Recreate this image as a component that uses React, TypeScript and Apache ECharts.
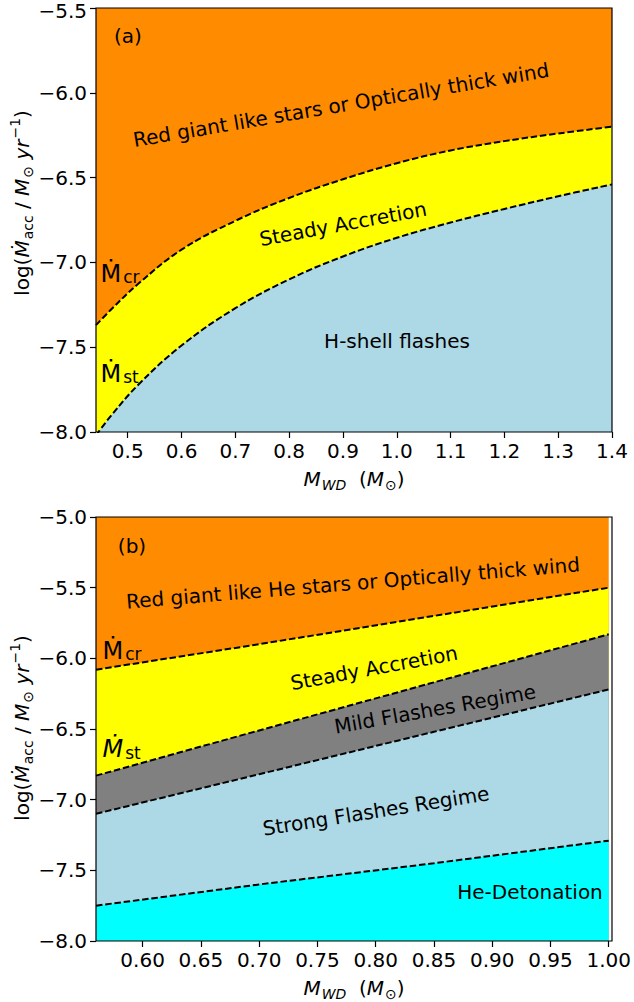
import React, { useEffect, useRef } from 'react';
import * as echarts from 'echarts';

// ---------- Panel (a) data ----------
const aMass = [0.441, 0.47, 0.52, 0.6, 0.7, 0.8, 0.9, 1.0, 1.1, 1.2, 1.3, 1.4];
const aMcr = [-7.37, -7.275, -7.125, -6.925, -6.755, -6.62, -6.51, -6.415, -6.34, -6.285, -6.24, -6.2];
const aMst = [-8.02, -7.9, -7.72, -7.49, -7.27, -7.1, -6.965, -6.855, -6.765, -6.685, -6.61, -6.54];
const aXTicks = [0.5, 0.6, 0.7, 0.8, 0.9, 1.0, 1.1, 1.2, 1.3, 1.4];

// ---------- Panel (b) data ----------
const bMass = [0.56, 0.7, 0.85, 1.0];
const bMcr = [-6.08, -5.9, -5.7, -5.5];
const bMst = [-6.83, -6.51, -6.17, -5.83];
const bMfl = [-7.1, -6.82, -6.52, -6.22];
const bMdet = [-7.75, -7.6, -7.45, -7.29];
const bXTicks = [0.6, 0.65, 0.7, 0.75, 0.8, 0.85, 0.9, 0.95, 1.0];

const FONT = 'DejaVu Sans';
const ORANGE = '#FF8C00';
const YELLOW = '#FFFF00';
const LBLUE = '#ADD8E6';
const GRAY = '#808080';
const CYAN = '#00FFFF';

const pairs = (xs: number[], ys: number[]) => xs.map((x, i) => [x, ys[i]]);

const G = [
  { left: 96, top: 8, width: 516, height: 424 },
  { left: 96, top: 517, width: 516, height: 424 },
];

const richBase = {
  n: { fontSize: 20, fontFamily: FONT, color: '#000', verticalAlign: 'top', padding: [4, 0, 0, 0] },
  i: { fontSize: 20, fontFamily: FONT, fontStyle: 'italic', color: '#000', verticalAlign: 'top', padding: [4, 0, 0, 0] },
  sb: { fontSize: 14, fontFamily: FONT, color: '#000', verticalAlign: 'top', padding: [13, 0, 0, 1] },
  sbi: { fontSize: 14, fontFamily: FONT, fontStyle: 'italic', color: '#000', verticalAlign: 'top', padding: [13, 0, 0, 1] },
  sp: { fontSize: 14, fontFamily: FONT, color: '#000', verticalAlign: 'top', padding: [0, 0, 0, 1] },
};

const richM = {
  m: { fontSize: 24, fontFamily: FONT, color: '#000', verticalAlign: 'bottom' },
  mi: { fontSize: 24, fontFamily: FONT, fontStyle: 'italic', color: '#000', verticalAlign: 'bottom' },
  s: { fontSize: 17, fontFamily: FONT, color: '#000', verticalAlign: 'bottom', padding: [0, 0, 0, 2] },
};

function label(x: number, y: number, text: string, deg = 0) {
  return {
    type: 'text',
    x,
    y,
    rotation: (deg * Math.PI) / 180,
    z: 50,
    style: { text, fontSize: 20, fontFamily: FONT, fill: '#000', align: 'center', verticalAlign: 'middle' },
  };
}

function mdot(x: number, y: number, text: string) {
  return {
    type: 'text',
    x,
    y,
    z: 50,
    style: { text, rich: richM, align: 'left', verticalAlign: 'bottom' },
  };
}

function frame(g: { left: number; top: number; width: number; height: number }) {
  return {
    type: 'rect',
    z: 100,
    shape: { x: g.left, y: g.top, width: g.width, height: g.height },
    style: { fill: 'none', stroke: '#000', lineWidth: 1.2 },
  };
}

const yTitle = '{n|log(}{i|Ṁ}{sb|acc}{n| / }{i|M}{sb|⊙}{n| }{i|yr}{sp|−1}{n|)}';
const xTitle = '{i|M}{sbi|WD}{n|  (}{i|M}{sb|⊙}{n|)}';

function xAxisDef(gi: number, min: number, max: number, ticks: number[], dec: number) {
  return {
    type: 'value',
    gridIndex: gi,
    min,
    max,
    axisLine: { show: false, onZero: false },
    axisTick: { show: true, length: 6, lineStyle: { color: '#000', width: 1.2 }, customValues: ticks },
    axisLabel: {
      customValues: ticks,
      formatter: (v: number) => v.toFixed(dec),
      fontSize: 20,
      fontFamily: FONT,
      color: '#000',
      margin: 9,
    },
    splitLine: { show: false },
  };
}

function yAxisDef(gi: number, min: number, max: number, nudgeTop: boolean) {
  return {
    type: 'value',
    gridIndex: gi,
    min,
    max,
    interval: 0.5,
    axisLine: { show: false, onZero: false },
    axisTick: { show: true, length: 6, lineStyle: { color: '#000', width: 1.2 } },
    axisLabel: {
      formatter: (v: number) => {
        const s = (v < 0 ? '−' : '') + Math.abs(v).toFixed(1);
        return nudgeTop && Math.abs(v - max) < 1e-9 ? '{t|' + s + '}' : s;
      },
      fontSize: 20,
      fontFamily: FONT,
      color: '#000',
      margin: 9,
      rich: {
        t: { fontSize: 20, fontFamily: FONT, color: '#000', padding: [5, 0, 0, 0] },
      },
    },
    splitLine: { show: false },
  };
}

function area(ai: number, xs: number[], ys: number[], color: string, z: number, smooth: boolean) {
  return {
    type: 'line',
    xAxisIndex: ai,
    yAxisIndex: ai,
    data: pairs(xs, ys),
    smooth: smooth ? 0.4 : false,
    symbol: 'none',
    silent: true,
    lineStyle: { opacity: 0, width: 0 },
    areaStyle: { color, opacity: 1, origin: 'start' },
    z,
  };
}

function dashed(ai: number, xs: number[], ys: number[], smooth: boolean) {
  return {
    type: 'line',
    xAxisIndex: ai,
    yAxisIndex: ai,
    data: pairs(xs, ys),
    smooth: smooth ? 0.4 : false,
    symbol: 'none',
    silent: true,
    lineStyle: { color: '#000', width: 2, type: [6.5, 2.8] },
    z: 10,
  };
}

export default function App() {
  const ref = useRef<HTMLDivElement>(null);
  useEffect(() => {
    if (!ref.current) return;
    const chart = echarts.init(ref.current, undefined, { renderer: 'svg' });
    chart.setOption({
      animation: false,
      backgroundColor: '#ffffff',
      grid: G.map((g) => ({ ...g, show: true, backgroundColor: ORANGE, borderWidth: 0 })),
      xAxis: [xAxisDef(0, 0.441, 1.4, aXTicks, 1), xAxisDef(1, 0.56, 1.0, bXTicks, 2)],
      yAxis: [yAxisDef(0, -8, -5.5, true), yAxisDef(1, -8, -5, false)],
      series: [
        area(0, aMass, aMcr, YELLOW, 2, true),
        area(0, aMass, aMst, LBLUE, 3, true),
        dashed(0, aMass, aMcr, true),
        dashed(0, aMass, aMst, true),
        area(1, bMass, bMcr, YELLOW, 2, false),
        area(1, bMass, bMst, GRAY, 3, false),
        area(1, bMass, bMfl, LBLUE, 4, false),
        area(1, bMass, bMdet, CYAN, 5, false),
        dashed(1, bMass, bMcr, false),
        dashed(1, bMass, bMst, false),
        dashed(1, bMass, bMfl, false),
        dashed(1, bMass, bMdet, false),
      ],
      graphic: [
        frame(G[0]),
        frame(G[1]),
        // panel (a)
        label(128, 36, '(a)'),
        label(341, 105, 'Red giant like stars or Optically thick wind', 9.6),
        label(343, 224, 'Steady Accretion', 10.5),
        label(397, 341, 'H-shell flashes'),
        mdot(100.5, 285.5, '{m|Ṁ}{s|cr}'),
        mdot(100.5, 385.5, '{m|Ṁ}{s|st}'),
        // panel (b)
        label(132, 546, '(b)'),
        label(353, 583, 'Red giant like He stars or Optically thick wind', 4.7),
        label(374, 668, 'Steady Accretion', 10.5),
        label(435, 709, 'Mild Flashes Regime', 10),
        label(376, 811, 'Strong Flashes Regime', 9),
        label(530, 892, 'He-Detonation'),
        mdot(102.5, 662.5, '{m|Ṁ}{s|cr}'),
        mdot(102.5, 761, '{mi|Ṁ}{s|st}'),
        // axis titles
        {
          type: 'text',
          x: 21,
          y: 203,
          rotation: Math.PI / 2,
          z: 50,
          style: { text: yTitle, rich: richBase, align: 'center', verticalAlign: 'middle' },
        },
        {
          type: 'text',
          x: 21,
          y: 728,
          rotation: Math.PI / 2,
          z: 50,
          style: { text: yTitle, rich: richBase, align: 'center', verticalAlign: 'middle' },
        },
        {
          type: 'text',
          x: 354,
          y: 478,
          z: 50,
          style: { text: xTitle, rich: richBase, align: 'center', verticalAlign: 'middle' },
        },
        {
          type: 'text',
          x: 354,
          y: 987,
          z: 50,
          style: { text: xTitle, rich: richBase, align: 'center', verticalAlign: 'middle' },
        },
      ],
    });
    return () => chart.dispose();
  }, []);
  return (
    <div
      ref={ref}
      style={{ position: 'fixed', left: 0, top: 0, width: 634, height: 1002, background: '#fff' }}
    />
  );
}
